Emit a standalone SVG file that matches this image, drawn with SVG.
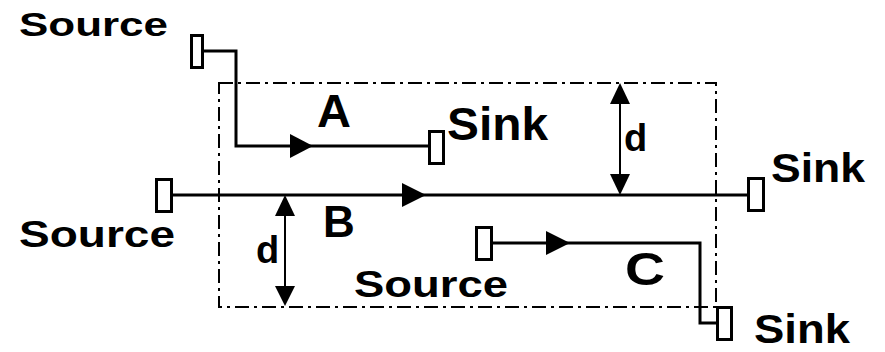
<svg xmlns="http://www.w3.org/2000/svg" width="885" height="352" viewBox="0 0 885 352">
<style>
  text { font-family: "Liberation Sans", Arial, sans-serif; font-weight: bold; fill: #000; }
  .net { fill: none; stroke: #000; stroke-width: 3; }
  .pin { fill: #fff; stroke: #000; stroke-width: 3; }
  .dim { fill: none; stroke: #000; stroke-width: 2; }
  .box { fill: none; stroke: #000; stroke-width: 2; stroke-dasharray: 14 5 3 5; }
  .head { fill: #000; }
</style>
<rect id="region" class="box" x="219" y="83" width="497" height="224"/>
<g id="connectors">
  <polyline class="net" points="203,51 236,51 236,146 428,146"/>
  <polygon class="head" points="290,134 313,146 290,158"/>
  <line class="net" x1="173" y1="195" x2="748" y2="195"/>
  <polygon class="head" points="402,183 426,195 402,207"/>
  <polyline class="net" points="493,243 700,243 700,323 716,323"/>
  <polygon class="head" points="546,231 570,243 546,255"/>
  <line class="dim" x1="620" y1="100" x2="620" y2="178"/>
  <polygon class="head" points="620,83 630,104 610,104"/>
  <polygon class="head" points="620,195 630,174 610,174"/>
  <line class="dim" x1="285" y1="212" x2="285" y2="290"/>
  <polygon class="head" points="285,195 295,216 275,216"/>
  <polygon class="head" points="285,306 295,286 275,286"/>
</g>
<g id="netA">
  <rect class="pin" x="191.5" y="35.5" width="11" height="32"/>
  <text x="19" y="36" font-size="33" textLength="149" lengthAdjust="spacingAndGlyphs">Source</text>
  <rect class="pin" x="429.5" y="131.5" width="14" height="32"/>
  <text x="447" y="140" font-size="46" textLength="101" lengthAdjust="spacingAndGlyphs">Sink</text>
  <text x="317" y="127" font-size="47">A</text>
</g>
<g id="netB">
  <rect class="pin" x="156.5" y="179.5" width="15" height="32"/>
  <text x="19" y="247" font-size="37" textLength="156" lengthAdjust="spacingAndGlyphs">Source</text>
  <rect class="pin" x="748.5" y="178.5" width="15" height="32"/>
  <text x="771" y="182" font-size="41" textLength="94" lengthAdjust="spacingAndGlyphs">Sink</text>
  <text x="323" y="237" font-size="44">B</text>
</g>
<g id="netC">
  <rect class="pin" x="476.5" y="227.5" width="15" height="32"/>
  <text x="354" y="297" font-size="37" textLength="154" lengthAdjust="spacingAndGlyphs">Source</text>
  <rect class="pin" x="717.5" y="307.5" width="14" height="32"/>
  <text x="754" y="343" font-size="41" textLength="96" lengthAdjust="spacingAndGlyphs">Sink</text>
  <text x="625" y="285" font-size="46" textLength="40" lengthAdjust="spacingAndGlyphs">C</text>
</g>
<g id="dims">
  <text x="624" y="151" font-size="38">d</text>
  <text x="256" y="263" font-size="38">d</text>
</g>
</svg>
